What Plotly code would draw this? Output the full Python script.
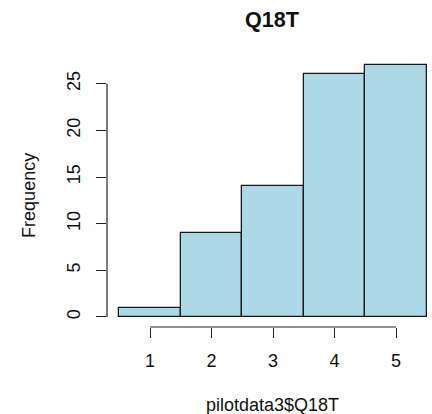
import plotly.graph_objects as go

# Histogram of Q18T responses (counts per answer value)
categories = [1, 2, 3, 4, 5]
frequencies = [1, 9, 14, 26, 27]
x_ticks = [1, 2, 3, 4, 5]
y_ticks = [0, 5, 10, 15, 20, 25]

FONT = "Liberation Sans, Arial, sans-serif"

fig = go.Figure(
    go.Bar(
        x=categories,
        y=frequencies,
        width=1,
        marker=dict(color="#ADD8E6", line=dict(color="#1a1a1a", width=1.3)),
        showlegend=False,
    )
)

fig.update_layout(
    width=432,
    height=414,
    margin=dict(l=107, r=0, t=55, b=87),
    plot_bgcolor="white",
    paper_bgcolor="white",
    font=dict(family=FONT, size=18, color="#111"),
    bargap=0,
    xaxis=dict(
        range=[0.3, 5.585],
        tickvals=x_ticks,
        ticktext=[str(v) for v in x_ticks],
        ticks="outside",
        ticklen=10,
        tickwidth=1.2,
        tickcolor="#222",
        showline=False,
        showgrid=False,
        zeroline=False,
        ticklabelstandoff=7,
    ),
    yaxis=dict(
        range=[-1.08, 28.08],
        tickvals=y_ticks,
        ticktext=[str(v) for v in y_ticks],
        tickangle=-90,
        ticks="outside",
        ticklen=10,
        tickwidth=1.2,
        tickcolor="#222",
        showline=False,
        showgrid=False,
        zeroline=False,
        ticklabelstandoff=9,
    ),
    annotations=[
        dict(text="<b>Q18T</b>", xref="paper", yref="paper", x=0.508, y=1.132,
             xanchor="center", yanchor="middle", showarrow=False,
             font=dict(family=FONT, size=21.6, color="#111")),
        dict(text="pilotdata3$Q18T", xref="paper", yref="paper", x=0.508, y=-0.285,
             xanchor="center", yanchor="middle", showarrow=False,
             font=dict(family=FONT, size=18, color="#111")),
        dict(text="Frequency", xref="paper", yref="paper", x=-0.24, y=0.482,
             xanchor="center", yanchor="middle", textangle=-90, showarrow=False,
             font=dict(family=FONT, size=18, color="#111")),
    ],
    shapes=[
        # axis lines spanning only the tick range
        dict(type="line", xref="x", yref="paper", x0=min(x_ticks), x1=max(x_ticks),
             y0=0, y1=0, line=dict(color="#222", width=1.2)),
        dict(type="line", xref="paper", yref="y", x0=0, x1=0,
             y0=min(y_ticks), y1=max(y_ticks), line=dict(color="#222", width=1.2)),
    ],
)

fig.write_html("out.html")
